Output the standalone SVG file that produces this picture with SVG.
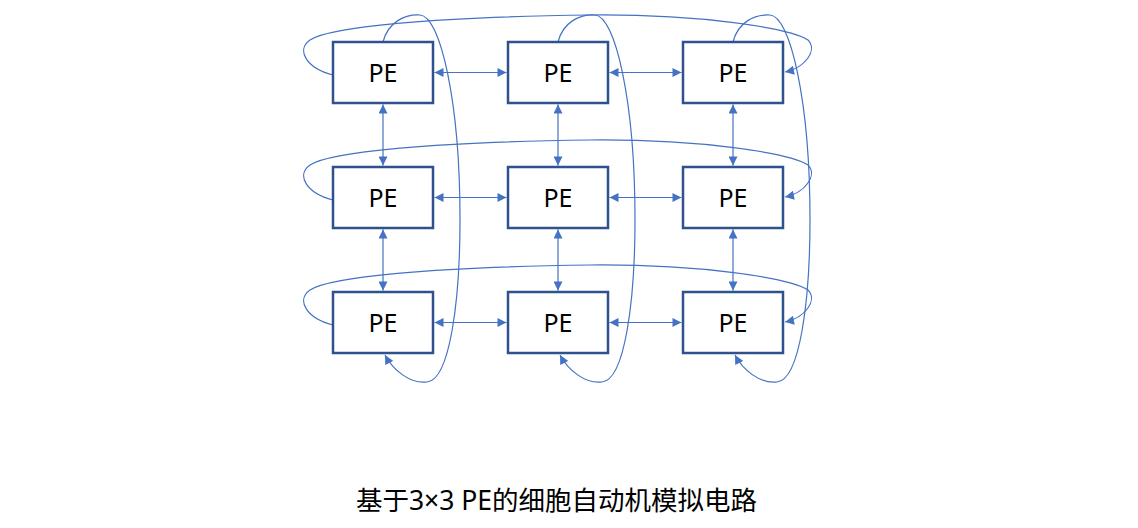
<svg xmlns="http://www.w3.org/2000/svg" width="1138" height="528" viewBox="0 0 1138 528">
<style>
.box{fill:#fff;stroke:#2F528F;stroke-width:2.5}
.lbl{font-family:"Noto Sans","Noto Sans CJK SC",sans-serif;font-size:25px;fill:#000;text-anchor:middle}
.c{fill:none;stroke:#4472C4;stroke-width:1.2}
.d{marker-start:url(#ah);marker-end:url(#ah)}
.e{marker-end:url(#ah)}
.title{font-family:"Noto Sans","Noto Sans CJK SC",sans-serif;font-size:26.5px;fill:#000;text-anchor:middle}
</style>
<defs>
<marker id="ah" viewBox="0 0 10 10" refX="10" refY="5" markerWidth="10" markerHeight="9" markerUnits="userSpaceOnUse" orient="auto-start-reverse">
<path d="M0,0 L10,5 L0,10 z" fill="#4472C4"/>
</marker>
</defs>
<g id="connectors">
<line class="c d" x1="434.5" y1="72.5" x2="506.5" y2="72.5"/>
<line class="c d" x1="609.5" y1="72.5" x2="681.5" y2="72.5"/>
<line class="c d" x1="434.5" y1="197.5" x2="506.5" y2="197.5"/>
<line class="c d" x1="609.5" y1="197.5" x2="681.5" y2="197.5"/>
<line class="c d" x1="434.5" y1="322.5" x2="506.5" y2="322.5"/>
<line class="c d" x1="609.5" y1="322.5" x2="681.5" y2="322.5"/>
<line class="c d" x1="383" y1="104.5" x2="383" y2="165.5"/>
<line class="c d" x1="558" y1="104.5" x2="558" y2="165.5"/>
<line class="c d" x1="733" y1="104.5" x2="733" y2="165.5"/>
<line class="c d" x1="383" y1="229.5" x2="383" y2="290.5"/>
<line class="c d" x1="558" y1="229.5" x2="558" y2="290.5"/>
<line class="c d" x1="733" y1="229.5" x2="733" y2="290.5"/>
<path class="c e" d="M333,75 C306,68 296,50 310,40 C330,27 430,17 590,15 C700,14 790,28 808,40 C818,50 805,68 785,72"/>
<path class="c e" d="M333,200 C306,193 296,175 310,165 C330,152 430,142 590,140 C700,139 790,153 808,165 C818,175 805,193 785,197"/>
<path class="c e" d="M333,325 C306,318 296,300 310,290 C330,277 430,267 590,265 C700,264 790,278 808,290 C818,300 805,318 785,322"/>
<path class="c e" d="M383,42 C388,22 405,14 420,15 C440,16 460,100 460,220 C460,300 450,380 427,382 C410,384 393,370 385,355"/>
<path class="c e" d="M558,42 C563,22 580,14 595,15 C615,16 635,100 635,220 C635,300 625,380 602,382 C585,384 568,370 560,355"/>
<path class="c e" d="M733,42 C738,22 755,14 770,15 C790,16 810,100 810,220 C810,300 800,380 777,382 C760,384 743,370 735,355"/>
</g>
<g id="pe11"><rect class="box" x="333" y="42" width="100" height="61"/><text class="lbl" x="383" y="82">PE</text></g>
<g id="pe12"><rect class="box" x="508" y="42" width="100" height="61"/><text class="lbl" x="558" y="82">PE</text></g>
<g id="pe13"><rect class="box" x="683" y="42" width="100" height="61"/><text class="lbl" x="733" y="82">PE</text></g>
<g id="pe21"><rect class="box" x="333" y="167" width="100" height="61"/><text class="lbl" x="383" y="207">PE</text></g>
<g id="pe22"><rect class="box" x="508" y="167" width="100" height="61"/><text class="lbl" x="558" y="207">PE</text></g>
<g id="pe23"><rect class="box" x="683" y="167" width="100" height="61"/><text class="lbl" x="733" y="207">PE</text></g>
<g id="pe31"><rect class="box" x="333" y="292" width="100" height="61"/><text class="lbl" x="383" y="332">PE</text></g>
<g id="pe32"><rect class="box" x="508" y="292" width="100" height="61"/><text class="lbl" x="558" y="332">PE</text></g>
<g id="pe33"><rect class="box" x="683" y="292" width="100" height="61"/><text class="lbl" x="733" y="332">PE</text></g>
<g id="title"><text class="title" x="556.5" y="510">基于3×3 PE的细胞自动机模拟电路</text></g>
</svg>
